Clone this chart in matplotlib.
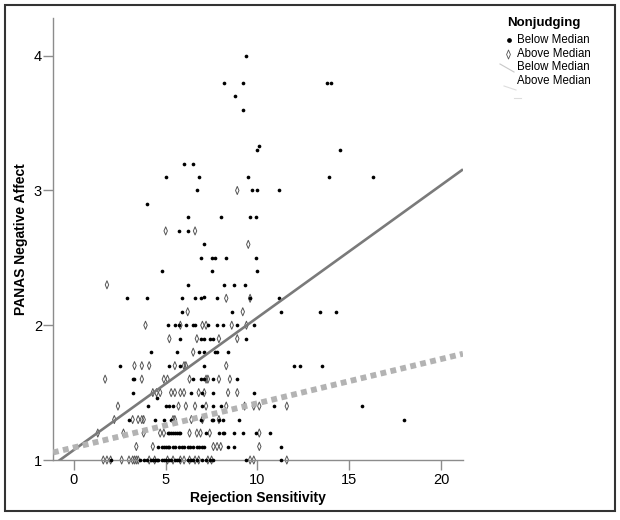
import matplotlib
matplotlib.use("Agg")
import matplotlib.pyplot as plt
from matplotlib.path import Path
from matplotlib.lines import Line2D
from matplotlib.patches import Rectangle
import numpy as np

plt.rcParams['font.family'] = ['Liberation Sans', 'DejaVu Sans']

# ---- data: Below Median (dots) ----
below_rows = {
    4.0: [9.4],
    3.8: [8.2, 9.2, 13.8, 14.0],
    3.7: [8.8],
    3.6: [9.2],
    3.33: [10.1],
    3.3: [10.0, 14.5],
    3.2: [6.0, 6.5],
    3.1: [5.0, 6.8, 9.5, 13.9, 16.3],
    3.0: [6.7, 9.7, 10.0, 11.2],
    2.9: [4.0],
    2.8: [6.2, 8.0, 9.6, 9.9],
    2.7: [5.7, 6.2],
    2.6: [7.1],
    2.5: [6.9, 7.5, 7.7, 8.3, 9.9],
    2.4: [4.8, 7.5, 10.0],
    2.3: [6.2, 8.2, 8.7, 9.3],
    2.21: [7.1],
    2.2: [2.9, 4.0, 5.9, 6.6, 6.9, 7.8, 9.6, 11.2],
    2.1: [5.9, 8.6, 11.3, 13.4, 14.3],
    2.0: [5.1, 5.5, 5.7, 6.1, 6.5, 6.6, 7.3, 7.8, 8.1, 8.9, 9.8],
    1.9: [5.8, 6.9, 7.1, 7.4, 7.6, 9.4],
    1.8: [4.2, 5.6, 6.8, 7.1, 7.7, 7.8, 8.4],
    1.7: [2.5, 5.2, 5.8, 7.1, 12.0, 12.3, 13.5],
    1.6: [3.2, 3.3, 6.5, 6.9, 7.1, 7.6, 8.9],
    1.5: [3.2, 6.4, 7.0, 7.6, 9.8],
    1.46: [4.55],
    1.4: [4.05, 5.0, 5.2, 5.4, 7.0, 7.6, 8.0, 10.9, 15.7],
    1.3: [3.0, 4.4, 4.9, 5.3, 6.9, 7.5, 7.6, 7.9, 8.1, 9.0, 18.0],
    1.2: [5.1, 5.2, 5.3, 5.4, 5.5, 5.6, 5.7, 5.8, 7.2, 7.9, 8.1, 8.2, 8.7,
          9.2, 9.9, 10.7],
    1.1: [4.6, 4.8, 4.9, 5.0, 5.1, 5.2, 5.4, 5.5, 5.7, 5.9, 6.0, 6.2, 6.3,
          6.5, 6.7, 6.8, 7.0, 7.1, 8.4, 8.7, 11.3],
    1.0: [2.0, 3.6, 3.8, 4.0, 4.2, 4.3, 4.4, 4.5, 4.6, 4.8, 4.9, 5.0, 5.2,
          5.3, 5.5, 5.6, 5.7, 6.2, 6.4, 6.5, 6.7, 7.0, 7.2, 7.4, 7.6, 9.4,
          11.3],
}

# ---- data: Above Median (diamonds) ----
above_rows = {
    3.0: [8.9],
    2.7: [5.0, 6.6],
    2.6: [9.5],
    2.3: [1.8],
    2.2: [8.3, 9.6],
    2.1: [6.2, 9.2],
    2.0: [3.9, 5.8, 7.0, 7.2, 8.6, 9.4],
    1.9: [5.2, 6.7, 7.9, 8.9],
    1.8: [6.5],
    1.7: [3.3, 3.7, 4.1, 5.5, 6.0, 6.1, 8.3],
    1.6: [1.7, 3.7, 4.9, 5.1, 6.3, 7.2, 7.3, 7.9, 8.5],
    1.5: [4.3, 4.5, 4.7, 5.3, 5.5, 5.8, 6.0, 6.8, 7.1, 8.4, 8.9],
    1.4: [2.4, 5.7, 6.1, 6.6, 7.2, 8.3, 9.3, 9.8, 10.1, 11.6],
    1.3: [2.2, 3.2, 3.5, 3.7, 3.8, 5.4, 5.5, 6.4, 7.0, 7.9],
    1.2: [1.3, 2.7, 3.8, 4.7, 4.9, 6.3, 6.7, 6.9, 7.4, 10.1],
    1.1: [3.4, 4.3, 7.6, 7.8, 8.0, 10.1],
    1.0: [1.6, 1.8, 2.0, 2.6, 3.0, 3.2, 3.3, 3.4, 3.5, 4.1, 4.4, 5.1, 5.4,
          5.8, 6.0, 6.3, 6.6, 6.8, 7.3, 7.5, 9.6, 9.8, 11.6],
}

# fit lines (intercept, slope)
below_fit = (1.075, 0.0982)
above_fit = (1.093, 0.0328)

x_ticks = [0, 5, 10, 15, 20]
y_ticks = [1, 2, 3, 4]
x_label = "Rejection Sensitivity"
y_label = "PANAS Negative Affect"
legend_title = "Nonjudging"
legend_labels = ["Below Median", "Above Median", "Below Median", "Above Median"]

bx = [x for y, xs in below_rows.items() for x in xs]
by = [y for y, xs in below_rows.items() for x in xs]
ax_ = [x for y, xs in above_rows.items() for x in xs]
ay_ = [y for y, xs in above_rows.items() for x in xs]

W, H = 620, 520
fig = plt.figure(figsize=(W / 100, H / 100), dpi=100)
ax = fig.add_axes([53 / W, 1 - 460 / H, (463 - 53) / W, (460 - 18) / H])

diamond = Path([(0, 1), (0.42, 0), (0, -1), (-0.42, 0), (0, 1)],
               [Path.MOVETO, Path.LINETO, Path.LINETO, Path.LINETO, Path.CLOSEPOLY])

ax.scatter(ax_, ay_, marker=diamond, s=34, facecolors='none',
           edgecolors='#555555', linewidths=0.7, zorder=2, clip_on=False)
ax.scatter(bx, by, marker='o', s=7, color='black', linewidths=0, zorder=3,
           clip_on=False)

xlim = (-1.14, 21.2)
ylim = (1.0, 4.28)
xx = np.array(xlim)
ax.plot(xx, below_fit[0] + below_fit[1] * xx, color='#7a7a7a', lw=1.9,
        solid_capstyle='butt', zorder=4)
ax.plot(xx, above_fit[0] + above_fit[1] * xx, color='#b3b3b3', lw=4.2,
        dashes=(1.0, 0.75), dash_capstyle='butt', zorder=4)

ax.set_xlim(*xlim)
ax.set_ylim(*ylim)
ax.set_xticks(x_ticks)
ax.set_yticks(y_ticks)
for s in ['top', 'right']:
    ax.spines[s].set_visible(False)
for s in ['left', 'bottom']:
    ax.spines[s].set_color('#8c8c8c')
    ax.spines[s].set_linewidth(1.0)
ax.tick_params(axis='both', colors='#8c8c8c', labelcolor='black',
               labelsize=10.5, width=1.0)
ax.tick_params(axis='x', length=7, pad=2)
ax.tick_params(axis='y', length=7, pad=1)
ax.set_xlabel(x_label, fontsize=10, fontweight='bold', labelpad=3)
ax.set_ylabel(y_label, fontsize=10, fontweight='bold', labelpad=4)

# legend (manual placement)
def fx(px):
    return px / W

def fy(py):
    return 1 - py / H

fig.text(fx(507), fy(23), legend_title, fontsize=9.5, fontweight='bold',
         va='center', ha='left')
ys = [40, 54, 67.5, 81]
for lab, yy in zip(legend_labels, ys):
    fig.text(fx(517), fy(yy), lab, fontsize=8.3, va='center', ha='left')
fig.add_artist(Line2D([fx(508.5)], [fy(40)], marker='o', ms=2.4,
                      color='black', lw=0, transform=fig.transFigure))
fig.add_artist(Line2D([fx(508)], [fy(54)], marker=diamond, ms=6.5,
                      mfc='none', mec='#555555', mew=0.6, lw=0,
                      transform=fig.transFigure))
fig.add_artist(Line2D([fx(500), fx(514)], [fy(64), fy(72)], color='#c8c8c8',
                      lw=0.8, transform=fig.transFigure))
fig.add_artist(Line2D([fx(504), fx(516)], [fy(86), fy(90)], color='#dddddd',
                      lw=0.8, transform=fig.transFigure))
fig.add_artist(Line2D([fx(514), fx(521)], [fy(98), fy(98)], color='#dddddd',
                      lw=0.8, transform=fig.transFigure))

# outer frame
fig.add_artist(Rectangle((fx(5), fy(511)), fx(610), 506 / H, fill=False,
                         edgecolor='#333333', lw=1.5, transform=fig.transFigure))

fig.savefig("out.png", dpi=100)
